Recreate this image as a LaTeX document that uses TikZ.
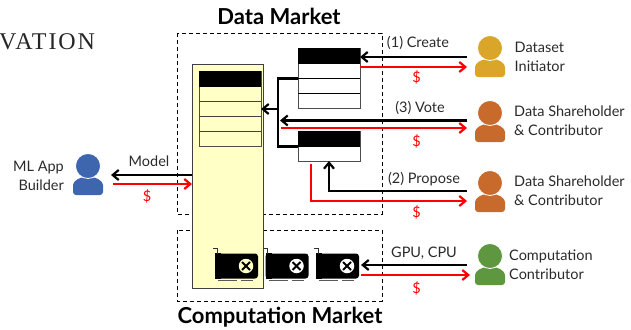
\documentclass[tikz,border=0pt]{standalone}
\usepackage{fontspec}
\setmainfont{Lato}
\newfontfamily\captionfont[LetterSpace=8]{Liberation Serif}
\usetikzlibrary{arrows.meta,positioning}

\definecolor{paleyellow}{HTML}{FFFFC6}
\definecolor{initiatorgold}{HTML}{DAA62A}
\definecolor{holderorange}{HTML}{C96A2D}
\definecolor{computegreen}{HTML}{5F9640}
\definecolor{builderblue}{HTML}{3D66AE}
\definecolor{labelgray}{HTML}{2A2A2A}

\tikzset{
	>={Straight Barb[length=6pt,width=10pt]},
	market/.style={draw, dashed, line width=0.8pt, dash pattern=on 4pt off 3pt},
	tablebox/.style={draw=black!70, line width=0.9pt, rectangle, inner sep=0pt, outer sep=0pt},
	blackline/.style={->, line width=2.2pt, black},
	redline/.style={->, line width=2.2pt, red},
	branch/.style={line width=2.2pt, black},
	paylabel/.style={red, font=\fontsize{14.5}{14.5}\selectfont},
	flowlabel/.style={labelgray, font=\fontsize{14.5}{14.5}\selectfont},
	whotext/.style={labelgray, font=\fontsize{14.5}{19}\selectfont, align=left, anchor=west, inner sep=0pt},
	title/.style={font=\fontsize{22}{22}\selectfont\bfseries},
	gpucard/.style={fill=black, rectangle, rounded corners=3pt, minimum width=43pt, minimum height=25pt, inner sep=0pt, outer xsep=2pt},
}

% head and shoulders: name, centre of head, colour
\newcommand{\personicon}[3]{
	\begin{scope}[shift={(#2)}]
		\fill [#3, rounded corners=3pt] (-15,29) -- (-15,22) .. controls (-15,15) and (-8,11) .. (0,11) .. controls (8,11) and (15,15) .. (15,22) -- (15,29) -- cycle;
	\end{scope}
	\node (#1) at (#2) [circle, minimum size=25pt, inner sep=0pt, fill=#3, draw=white, line width=0.8pt] {};
}

% card with fan: name, centre, fan colour
\newcommand{\gpuicon}[3]{
	\node (#1) at (#2) [gpucard] {};
	\fill [black] ([xshift=2pt]#1.north west) rectangle ++(6,6);
	\fill [black] ([xshift=2pt]#1.south west) rectangle ++(6,-6);
	\draw [black!80, line width=0.8pt] ([yshift=4.5pt]#1.north west) -- ++(4,0) -- ++(0,5);
	\draw [black!65, line width=1pt] ([shift={(5,2)}]#1.south west) -- ++(19,0) ++(4,0) -- ++(12,0);
	\node (#1fan) at ([xshift=-14pt]#1.center -| #1.east) [circle, minimum size=14.5pt, inner sep=0pt, fill=#3] {};
	\draw [black, line width=2pt] ([shift={(-4,-4)}]#1fan.center) -- ++(8,8) ([shift={(-4,4)}]#1fan.center) -- ++(8,-8);
}

\begin{document}
\begin{tikzpicture}[x=1pt,y=-1pt]
	\useasboundingbox (0,0) rectangle (631,329);

	\node (chapter) at (-1,42) [anchor=west, inner sep=0pt, font=\captionfont\fontsize{24}{24}\selectfont, text=black!85] {VATION};

	% markets
	\node (datatitle) at (279,16) [title] {Data Market};
	\node (comptitle) at (280,317) [title] {Computation Market};
	\draw [market] (177,33) rectangle (382,214);
	\draw [market] (177,230) rectangle (382,301);

	% three tables
	\node (chain) at (227.5,176) [draw=black!75, fill=paleyellow, line width=0.9pt, rectangle, minimum width=71pt, minimum height=224pt, inner sep=0pt, outer sep=0pt] {};
	\node (finaltable) at (230,109) [tablebox, minimum width=62pt, minimum height=75.5pt] {};
	\fill [black] (finaltable.north west) rectangle (261,87);
	\draw [black!75, line width=0.8pt] (finaltable.west |- 0,101.5) -- (finaltable.east |- 0,101.5);
	\draw [black!75, line width=0.8pt] (finaltable.west |- 0,116.5) -- (finaltable.east |- 0,116.5);
	\draw [black!75, line width=0.8pt] (finaltable.west |- 0,131.5) -- (finaltable.east |- 0,131.5);

	\node (createtable) at (329,78.25) [tablebox, fill=white, minimum width=62pt, minimum height=60.5pt] {};
	\fill [black] (createtable.north west) rectangle (360,64);
	\draw [black, line width=0.8pt] (createtable.west |- 0,78.5) -- (createtable.east |- 0,78.5);
	\draw [black, line width=0.8pt] (createtable.west |- 0,93.5) -- (createtable.east |- 0,93.5);

	\node (proposetable) at (329,146) [tablebox, fill=white, minimum width=62pt, minimum height=30pt] {};
	\fill [black] (proposetable.north west) rectangle (360,147);

	% people
	\personicon{initiator}{490,48}{initiatorgold}
	\personicon{voter}{490,113}{holderorange}
	\personicon{proposer}{490,183}{holderorange}
	\personicon{contributor}{490,256}{computegreen}
	\personicon{builder}{88,166}{builderblue}

	\node (initiatortext) at (514.5,57) [whotext] {Dataset\\Initiator};
	\node (votertext) at (514,120.5) [whotext] {Data Shareholder\\\& Contributor};
	\node (proposertext) at (514,191) [whotext] {Data Shareholder\\\& Contributor};
	\node (contributortext) at (509,264.5) [whotext] {Computation\\Contributor};
	\node (buildertext) at (64,175.5) [whotext, anchor=east, align=right] {ML App\\Builder};

	% cards
	\gpuicon{gpua}{236.5,266}{paleyellow}
	\gpuicon{gpub}{287,266}{white}
	\gpuicon{gpuc}{337.5,266}{white}

	% flows
	\coordinate (voteend) at (280,120);
	\coordinate (voteredstart) at (281,128);
	\coordinate (junction) at (278,109);
	\coordinate (proposeredstart) at (311,164);

	\draw [branch] (createtable.west |- 0,78.5) -| (junction) |- (proposetable.west |- 0,146.5);
	\draw [blackline] (junction) -- (finaltable.east |- junction);

	\draw [blackline] (467,57) coordinate (createfrom) -- (createtable.east |- createfrom);
	\draw [redline] (createtable.east |- 0,67) -- (467,67);
	\draw [blackline] (467,120.5) coordinate (votefrom) -- (voteend |- votefrom);
	\draw [redline] (voteredstart) -- (467,128);
	\coordinate (proposefrom) at (467,191);
	\draw [blackline] (proposefrom) -| (proposetable.south);
	\draw [redline] (proposeredstart) |- (467,201);
	\draw [blackline] (467,265) coordinate (gpufrom) -- (gpuc.east |- gpufrom);
	\draw [redline] (gpuc.east |- 0,275) -- (470,275);
	\draw [blackline] (chain.west |- 0,175) -- (111,175);
	\draw [redline] (113,184) -- (chain.west |- 0,184);

	% labels on flows
	\node (createlabel) at (418,43) [flowlabel] {(1) Create};
	\node (votelabel) at (420,108) [flowlabel] {(3) Vote};
	\node (proposelabel) at (424,179) [flowlabel] {(2) Propose};
	\node (gpulabel) at (424,253) [flowlabel] {GPU, CPU};
	\node (modellabel) at (149,161) [flowlabel] {Model};

	\node (createpay) at (416.5,77) [paylabel] {\$};
	\node (votepay) at (416.5,141) [paylabel] {\$};
	\node (proposepay) at (416.5,212) [paylabel] {\$};
	\node (gpupay) at (416.5,288) [paylabel] {\$};
	\node (modelpay) at (147,196) [paylabel] {\$};
\end{tikzpicture}
\end{document}
